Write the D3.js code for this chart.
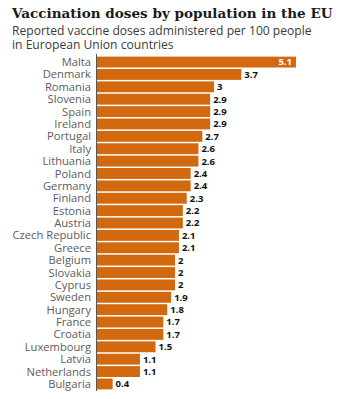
<!DOCTYPE html>
<meta charset="utf-8">
<style>
body { margin: 0; background: #fff; }
.title { font-family: "DejaVu Serif", serif; font-weight: bold; fill: #1a1a1a; }
.subtitle { font-family: "Open Sans", sans-serif; fill: #3c3c3c; }
.country { font-family: "Open Sans", sans-serif; fill: #5c5c5c; font-size: 11.2px; }
.value { font-family: "Open Sans", sans-serif; font-weight: bold; fill: #111; font-size: 9.5px; }
.bar { fill: #d2690f; }
</style>
<svg width="344" height="399"></svg>
<script src="https://cdn.jsdelivr.net/npm/d3@7"></script>
<script>

var countries = ["Malta", "Denmark", "Romania", "Slovenia", "Spain", "Ireland", "Portugal",
  "Italy", "Lithuania", "Poland", "Germany", "Finland", "Estonia", "Austria",
  "Czech Republic", "Greece", "Belgium", "Slovakia", "Cyprus", "Sweden", "Hungary",
  "France", "Croatia", "Luxembourg", "Latvia", "Netherlands", "Bulgaria"];
var doses = [5.1, 3.7, 3, 2.9, 2.9, 2.9, 2.7, 2.6, 2.6, 2.4, 2.4, 2.3, 2.2, 2.2,
  2.1, 2.1, 2, 2, 2, 1.9, 1.8, 1.7, 1.7, 1.5, 1.1, 1.1, 0.4];

var svg = d3.select("svg");

// fit a text element to a given width by adjusting its font size
function fitWidth(sel, size, width) {
  sel.style("font-size", size + "px");
  var w = sel.node().getComputedTextLength();
  sel.style("font-size", (size * width / w) + "px");
}

fitWidth(svg.append("text")
    .attr("class", "title")
    .attr("x", 12).attr("y", 18)
    .text("Vaccination doses by population in the EU"), 16, 321);

fitWidth(svg.append("text").attr("class", "subtitle")
    .attr("x", 12).attr("y", 35)
    .text("Reported vaccine doses administered per 100 people"), 12.5, 300);
svg.append("text").attr("class", "subtitle")
    .attr("x", 12).attr("y", 49)
    .style("font-size", svg.select(".subtitle").style("font-size"))
    .text("in European Union countries");

var x = d3.scaleLinear()
    .domain([0, 5.1])
    .range([97, 296]);

var y = d3.scaleBand()
    .domain(countries)
    .range([56, 390])
    .paddingInner(0.12)
    .paddingOuter(0.05);

var rows = svg.append("g").selectAll("g")
    .data(countries)
    .enter().append("g");

rows.append("rect")
    .attr("class", "bar")
    .attr("x", x(0))
    .attr("y", d => y(d))
    .attr("height", y.bandwidth())
    .attr("width", (d, i) => x(doses[i]) - x(0));

rows.append("text")
    .attr("class", "country")
    .attr("x", 91)
    .attr("y", d => y(d) + y.bandwidth() / 2)
    .attr("dy", "0.36em")
    .attr("text-anchor", "end")
    .text(d => d);

rows.append("text")
    .attr("class", "value")
    .attr("x", (d, i) => i === 0 ? x(doses[i]) - 4 : x(doses[i]) + 3)
    .attr("y", d => y(d) + y.bandwidth() / 2)
    .attr("dy", "0.36em")
    .attr("text-anchor", (d, i) => i === 0 ? "end" : "start")
    .style("fill", (d, i) => i === 0 ? "#fff" : null)
    .text((d, i) => doses[i]);

// baseline
svg.append("line")
    .attr("x1", x(0) - 0.5).attr("x2", x(0) - 0.5)
    .attr("y1", 54).attr("y2", 391)
    .attr("stroke", "#555")
    .attr("stroke-width", 1);

</script>
